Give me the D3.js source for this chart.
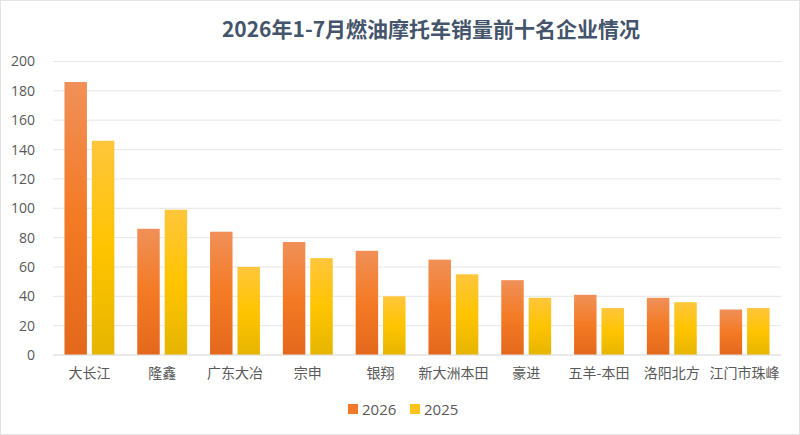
<!DOCTYPE html>
<html><head><meta charset="utf-8">
<script src="https://cdn.jsdelivr.net/npm/d3@7/dist/d3.min.js"></script>
<style>body{margin:0;background:#fff}svg{display:block}</style>
</head><body><svg id="c" width="800" height="435"></svg>
<script>
const categories = ["大长江","隆鑫","广东大冶","宗申","银翔","新大洲本田","豪进","五羊-本田","洛阳北方","江门市珠峰"];
const seriesNames = ["2026","2025"];
const values2026 = [186,86,84,77,71,65,51,41,39,31];
const values2025 = [146,99,60,66,40,55,39,32,36,32];
const yTicks = [0,20,40,60,80,100,120,140,160,180,200];
const title = "2026年1-7月燃油摩托车销量前十名企业情况";

const svg = d3.select("#c");
const cjk = "'Noto Sans CJK SC','Noto Sans',sans-serif";
const num = "'Open Sans','Noto Sans',sans-serif";

svg.append("rect").attr("x",0.5).attr("y",0.5).attr("width",799).attr("height",434)
  .attr("fill","#fff").attr("stroke","#e3e3e3");

const defs = svg.append("defs");
const g1 = defs.append("linearGradient").attr("id","gOrange").attr("x1",0).attr("y1",0).attr("x2",0).attr("y2",1);
g1.append("stop").attr("offset","0%").attr("stop-color","#F09058");
g1.append("stop").attr("offset","50%").attr("stop-color","#F47A24");
g1.append("stop").attr("offset","100%").attr("stop-color","#E4681C");
const g2 = defs.append("linearGradient").attr("id","gYellow").attr("x1",0).attr("y1",0).attr("x2",0).attr("y2",1);
g2.append("stop").attr("offset","0%").attr("stop-color","#FFC63C");
g2.append("stop").attr("offset","50%").attr("stop-color","#FFC400");
g2.append("stop").attr("offset","100%").attr("stop-color","#E6B500");
const fills = {"2026":"url(#gOrange)","2025":"url(#gYellow)"};
const legendFills = {"2026":"#F07A2A","2025":"#FFC41A"};

const x0 = d3.scaleBand().domain(categories).range([53,781]).paddingInner(0.315).paddingOuter(0.1575);
const x1 = d3.scaleBand().domain(seriesNames).range([0,x0.bandwidth()]).paddingInner(0.18);
const y = d3.scaleLinear().domain([0,200]).range([355,61.5]);

// grid
svg.append("g").selectAll("line").data(yTicks).join("line")
  .attr("x1",53).attr("x2",781).attr("y1",d=>y(d)).attr("y2",d=>y(d))
  .attr("stroke","#e6e6e6").attr("stroke-width",1);

// y axis
const yAxis = svg.append("g").attr("transform","translate(53,0)")
  .call(d3.axisLeft(y).tickValues(yTicks).tickSize(0).tickPadding(18));
yAxis.select(".domain").remove();
yAxis.selectAll("text").attr("font-family",num).attr("font-size",14).attr("fill","#595959");

// bars
const data = categories.map((c,i)=>({c, vals:[{s:"2026",v:values2026[i]},{s:"2025",v:values2025[i]}]}));
const grp = svg.append("g").selectAll("g").data(data).join("g")
  .attr("transform",d=>`translate(${x0(d.c)},0)`);
grp.selectAll("rect").data(d=>d.vals).join("rect")
  .attr("x",d=>x1(d.s)).attr("width",x1.bandwidth())
  .attr("y",d=>y(d.v)).attr("height",d=>y(0)-y(d.v))
  .attr("fill",d=>fills[d.s]);

// baseline
svg.append("line").attr("x1",53).attr("x2",781).attr("y1",y(0)).attr("y2",y(0)).attr("stroke","#e0e0e0");

// x axis
const xAxis = svg.append("g").attr("transform",`translate(0,${y(0)})`)
  .call(d3.axisBottom(x0).tickSize(0).tickPadding(13));
xAxis.select(".domain").remove();
xAxis.selectAll("text").attr("font-family",cjk).attr("font-size",14).attr("fill","#595959");

// title
svg.append("text").attr("x",431).attr("y",37).attr("text-anchor","middle")
  .attr("font-family",cjk).attr("font-weight","bold").attr("font-size",21)
  .attr("fill","#44546A").text(title);

// legend
const legendX = [348,410];
const lg = svg.append("g").selectAll("g").data(seriesNames).join("g")
  .attr("transform",(d,i)=>`translate(${legendX[i]},404)`);
lg.append("rect").attr("width",10).attr("height",10).attr("fill",d=>legendFills[d]);
lg.append("text").attr("x",14).attr("y",10.5).attr("font-family",num).attr("font-size",15)
  .attr("fill","#595959").text(d=>d);
</script></body></html>
